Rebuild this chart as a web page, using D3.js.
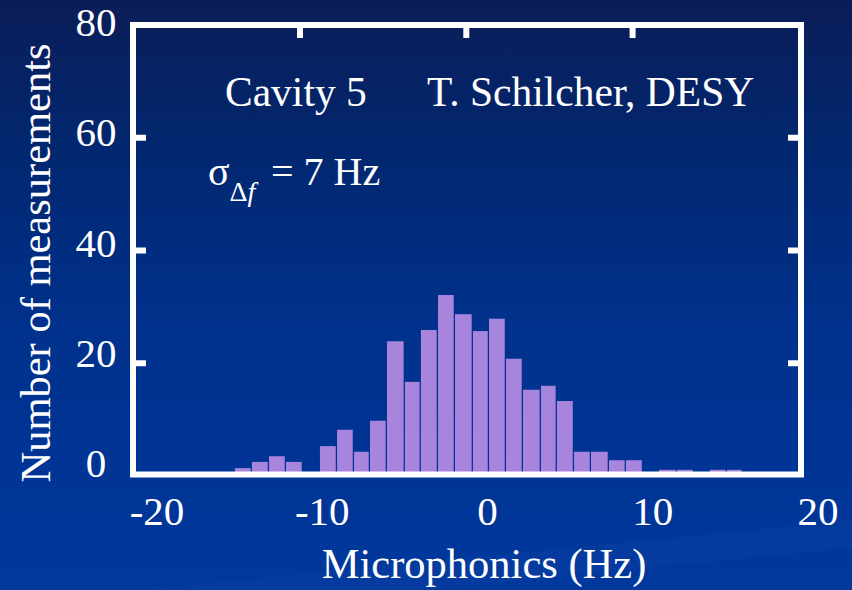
<!DOCTYPE html>
<html>
<head>
<meta charset="utf-8">
<script src="https://cdn.jsdelivr.net/npm/d3@7"></script>
<style>
  html, body { margin: 0; padding: 0; background: #0a2a80; }
  svg { display: block; }
  text { font-family: "Liberation Serif", "Times New Roman", serif; fill: #ffffff; }
</style>
</head>
<body>
<svg id="chart" width="852" height="590"></svg>
<script>
// ---- data ----
const binEdges = [-13.91, -12.89, -11.86, -10.84, -9.82, -8.80, -7.77, -6.75, -5.79, -4.77,
                  -3.69, -2.73, -1.70, -0.68, 0.40, 1.37, 2.39, 3.41, 4.49, 5.45,
                  6.48, 7.50, 8.58, 9.60, 10.63, 11.59, 12.67, 13.69, 14.65, 15.67, 16.63];
const counts = [1.4, 2.5, 3.5, 2.5, 0, 5.3, 8.2, 4.3, 9.8, 23.9,
                16.7, 25.9, 32.1, 28.7, 25.7, 27.9, 20.8, 15.3, 16.0, 13.3,
                4.3, 4.3, 2.8, 2.8, 0, 1.1, 1.1, 0, 1.1, 1.1];
const xTicks = [-20, -10, 0, 10, 20];
const yTicks = [0, 20, 40, 60, 80];
const xTitle = "Microphonics (Hz)";
const yTitle = "Number of measurements";
const label1 = "Cavity 5";
const label2 = "T. Schilcher, DESY";
const sigmaValue = "7 Hz";

// ---- drawing ----
const svg = d3.select("#chart");
const W = 852, H = 590;

const defs = svg.append("defs");
const bg = defs.append("linearGradient").attr("id", "bg")
  .attr("x1", 0).attr("y1", 0).attr("x2", 0).attr("y2", 1);
bg.append("stop").attr("offset", "0%").attr("stop-color", "#0b1d58");
bg.append("stop").attr("offset", "25%").attr("stop-color", "#02276f");
bg.append("stop").attr("offset", "55%").attr("stop-color", "#00318c");
bg.append("stop").attr("offset", "100%").attr("stop-color", "#00389d");
svg.append("rect").attr("width", W).attr("height", H).attr("fill", "url(#bg)");

// faint template streaks at the bottom
svg.append("path")
  .attr("d", `M140,${H} L${W},520 L${W},548 L420,${H} Z`)
  .attr("fill", "#1a4cb0").attr("opacity", 0.18);

const x = d3.scaleLinear().domain([-20, 20]).range([133.7, 798.9]);
const y = d3.scaleLinear().domain([0, 80]).range([476, 25]);
// tick labels in the original are placed slightly offset from the ticks
const xLab = d3.scaleLinear().domain([-20, 20]).range([157, 818]);
const yLab = d3.scaleLinear().domain([0, 80]).range([477, 36]);

const bins = counts.map((c, i) => ({x0: binEdges[i], x1: binEdges[i + 1], c}));

svg.append("g").selectAll("rect").data(bins.filter(d => d.c > 0)).join("rect")
  .attr("x", d => x(d.x0))
  .attr("width", d => x(d.x1) - x(d.x0) - 1.3)
  .attr("y", d => y(d.c))
  .attr("height", d => y(0) - y(d.c))
  .attr("fill", "#a885dd");

// frame
const fx0 = 133, fx1 = 801, fy0 = 25, fy1 = 474.5;
svg.append("rect")
  .attr("x", fx0).attr("y", fy0).attr("width", fx1 - fx0).attr("height", fy1 - fy0)
  .attr("fill", "none").attr("stroke", "#ffffff").attr("stroke-width", 6);

const tickG = svg.append("g").attr("stroke", "#ffffff").attr("stroke-width", 6);
// top ticks
tickG.selectAll(".tt").data(xTicks.slice(1, -1)).join("line")
  .attr("x1", d => x(d)).attr("x2", d => x(d))
  .attr("y1", fy0 + 3).attr("y2", fy0 + 13);
// left ticks
tickG.selectAll(".lt").data(yTicks.slice(1, -1)).join("line").attr("class", "lt")
  .attr("x1", fx0 + 3).attr("x2", fx0 + 13)
  .attr("y1", d => y(d)).attr("y2", d => y(d));
// right ticks
tickG.selectAll(".rt").data(yTicks.slice(1, -1)).join("line").attr("class", "rt")
  .attr("x1", fx1 - 3).attr("x2", fx1 - 13)
  .attr("y1", d => y(d)).attr("y2", d => y(d));

// tick labels
svg.append("g").selectAll("text").data(xTicks).join("text")
  .attr("x", d => xLab(d)).attr("y", 525)
  .attr("text-anchor", "middle").attr("font-size", 41)
  .text(d => d);
svg.append("g").selectAll("text").data(yTicks).join("text")
  .attr("x", 96).attr("y", d => yLab(d))
  .attr("text-anchor", "middle").attr("font-size", 41)
  .text(d => d);

// axis titles
svg.append("text").attr("x", 484).attr("y", 578)
  .attr("text-anchor", "middle").attr("font-size", 42.5).text(xTitle);
svg.append("text")
  .attr("transform", "translate(50,263) rotate(-90)")
  .attr("text-anchor", "middle").attr("font-size", 42.5).text(yTitle);

// annotations
svg.append("text").attr("x", 225).attr("y", 106).attr("font-size", 41.5).text(label1);
svg.append("text").attr("x", 427).attr("y", 106).attr("font-size", 41.5).text(label2);

const sig = svg.append("text").attr("x", 208).attr("y", 185).attr("font-size", 40);
sig.append("tspan").text("σ");
sig.append("tspan").attr("font-size", 28).attr("dy", 16).text("Δ");
sig.append("tspan").attr("font-size", 28).attr("font-style", "italic").text("f");
sig.append("tspan").attr("x", 271).attr("dy", -16).text("= " + sigmaValue);
</script>
</body>
</html>
